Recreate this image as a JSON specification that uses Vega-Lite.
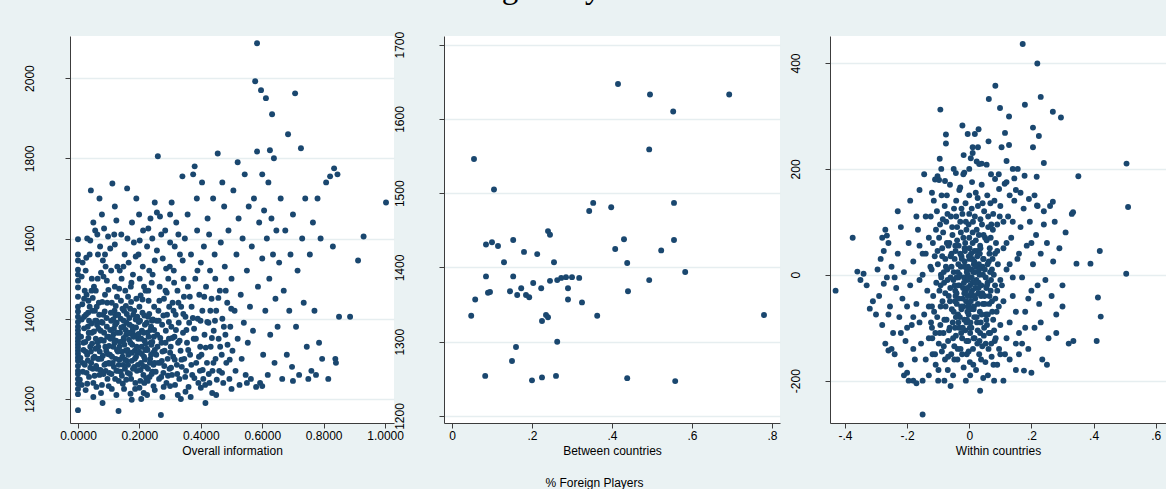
{
"$schema": "https://vega.github.io/schema/vega-lite/v6.json",
"background": "#EAF2F3",
"padding": {"left": 23, "top": -28, "right": 0, "bottom": 0},
"datasets": {
"p1": [
{"x":0,"y":1172},{"x":0,"y":1212},{"x":0,"y":1225},{"x":0,"y":1238},{"x":0,"y":1250},{"x":0,"y":1262},{"x":0,"y":1270},{"x":0,"y":1282},{"x":0,"y":1295},{"x":0,"y":1303},{"x":0,"y":1312},{"x":0,"y":1320},{"x":0,"y":1328},{"x":0,"y":1336},{"x":0,"y":1344},{"x":0,"y":1352},{"x":0,"y":1362},{"x":0,"y":1371},{"x":0,"y":1380},{"x":0,"y":1392},{"x":0,"y":1405},{"x":0,"y":1418},{"x":0,"y":1430},{"x":0,"y":1455},{"x":0,"y":1478},{"x":0,"y":1495},{"x":0,"y":1510},{"x":0,"y":1522},{"x":0,"y":1545},{"x":0,"y":1560},{"x":0,"y":1598},
{"x":0.012,"y":1235},{"x":0.015,"y":1290},{"x":0.018,"y":1340},{"x":0.02,"y":1405},{"x":0.022,"y":1470},{"x":0.025,"y":1520},{"x":0.028,"y":1265},{"x":0.03,"y":1310},{"x":0.032,"y":1380},{"x":0.034,"y":1445},{"x":0.036,"y":1255},{"x":0.038,"y":1560},{"x":0.04,"y":1330},{"x":0.042,"y":1720},{"x":0.043,"y":1290},{"x":0.045,"y":1365},{"x":0.047,"y":1420},{"x":0.05,"y":1240},{"x":0.052,"y":1480},{"x":0.054,"y":1305},{"x":0.056,"y":1620},{"x":0.058,"y":1350},{"x":0.06,"y":1395},{"x":0.062,"y":1275},{"x":0.064,"y":1500},{"x":0.066,"y":1330},{"x":0.068,"y":1440},{"x":0.07,"y":1260},{"x":0.072,"y":1580},{"x":0.074,"y":1370},{"x":0.076,"y":1300},{"x":0.078,"y":1660},{"x":0.08,"y":1190},{"x":0.082,"y":1410},{"x":0.084,"y":1345},{"x":0.086,"y":1285},{"x":0.088,"y":1460},{"x":0.09,"y":1530},{"x":0.092,"y":1320},{"x":0.094,"y":1380},{"x":0.096,"y":1250},{"x":0.098,"y":1605},{"x":0.1,"y":1355},{"x":0.03,"y":1600},{"x":0.05,"y":1640},{"x":0.065,"y":1560},{"x":0.085,"y":1625},{"x":0.02,"y":1450},{"x":0.045,"y":1500},{"x":0.075,"y":1515},{"x":0.09,"y":1270},{"x":0.06,"y":1230},{"x":0.035,"y":1365},{"x":0.055,"y":1420},{"x":0.08,"y":1390},{"x":0.025,"y":1318},{"x":0.07,"y":1345},{"x":0.095,"y":1440},{"x":0.015,"y":1540},{"x":0.04,"y":1595},{"x":0.088,"y":1560},{"x":0.068,"y":1300},{"x":0.1,"y":1290},{"x":0.078,"y":1235},{"x":0.058,"y":1470},{"x":0.048,"y":1275},{"x":0.033,"y":1415},{"x":0.062,"y":1385},{"x":0.083,"y":1505},
{"x":0.102,"y":1265},{"x":0.104,"y":1310},{"x":0.106,"y":1350},{"x":0.108,"y":1395},{"x":0.11,"y":1440},{"x":0.112,"y":1737},{"x":0.113,"y":1290},{"x":0.115,"y":1330},{"x":0.117,"y":1375},{"x":0.119,"y":1420},{"x":0.12,"y":1480},{"x":0.121,"y":1250},{"x":0.123,"y":1300},{"x":0.124,"y":1345},{"x":0.126,"y":1390},{"x":0.128,"y":1530},{"x":0.129,"y":1270},{"x":0.13,"y":1318},{"x":0.105,"y":1575},{"x":0.118,"y":1610},{"x":0.125,"y":1645},{"x":0.11,"y":1225},{"x":0.127,"y":1455},{"x":0.116,"y":1362},{"x":0.122,"y":1408},
{"x":0.132,"y":1170},{"x":0.133,"y":1285},{"x":0.135,"y":1330},{"x":0.137,"y":1365},{"x":0.139,"y":1400},{"x":0.14,"y":1445},{"x":0.142,"y":1500},{"x":0.143,"y":1258},{"x":0.145,"y":1305},{"x":0.147,"y":1345},{"x":0.148,"y":1380},{"x":0.15,"y":1420},{"x":0.152,"y":1560},{"x":0.153,"y":1275},{"x":0.155,"y":1320},{"x":0.157,"y":1360},{"x":0.158,"y":1390},{"x":0.16,"y":1725},{"x":0.141,"y":1610},{"x":0.146,"y":1238},{"x":0.154,"y":1470},{"x":0.159,"y":1295},{"x":0.136,"y":1520},{"x":0.149,"y":1352},{"x":0.156,"y":1432},
{"x":0.162,"y":1265},{"x":0.164,"y":1310},{"x":0.166,"y":1348},{"x":0.168,"y":1385},{"x":0.17,"y":1425},{"x":0.172,"y":1480},{"x":0.173,"y":1250},{"x":0.175,"y":1295},{"x":0.177,"y":1335},{"x":0.178,"y":1370},{"x":0.18,"y":1410},{"x":0.182,"y":1590},{"x":0.183,"y":1280},{"x":0.185,"y":1320},{"x":0.187,"y":1358},{"x":0.188,"y":1398},{"x":0.19,"y":1450},{"x":0.165,"y":1540},{"x":0.176,"y":1640},{"x":0.186,"y":1225},{"x":0.171,"y":1213},{"x":0.179,"y":1510},{"x":0.189,"y":1305},{"x":0.163,"y":1455},{"x":0.174,"y":1362},
{"x":0.192,"y":1270},{"x":0.194,"y":1315},{"x":0.196,"y":1350},{"x":0.198,"y":1392},{"x":0.2,"y":1430},{"x":0.201,"y":1500},{"x":0.203,"y":1245},{"x":0.205,"y":1290},{"x":0.207,"y":1330},{"x":0.208,"y":1370},{"x":0.21,"y":1415},{"x":0.212,"y":1620},{"x":0.213,"y":1260},{"x":0.215,"y":1305},{"x":0.217,"y":1345},{"x":0.218,"y":1385},{"x":0.22,"y":1470},{"x":0.197,"y":1560},{"x":0.206,"y":1200},{"x":0.214,"y":1215},{"x":0.199,"y":1660},{"x":0.211,"y":1530},{"x":0.219,"y":1322},{"x":0.204,"y":1458},{"x":0.216,"y":1240},
{"x":0.222,"y":1280},{"x":0.224,"y":1325},{"x":0.226,"y":1365},{"x":0.228,"y":1405},{"x":0.23,"y":1445},{"x":0.232,"y":1520},{"x":0.233,"y":1255},{"x":0.235,"y":1300},{"x":0.237,"y":1340},{"x":0.238,"y":1380},{"x":0.24,"y":1490},{"x":0.242,"y":1600},{"x":0.243,"y":1268},{"x":0.245,"y":1315},{"x":0.247,"y":1355},{"x":0.248,"y":1430},{"x":0.25,"y":1545},{"x":0.225,"y":1580},{"x":0.236,"y":1650},{"x":0.246,"y":1232},{"x":0.229,"y":1470},{"x":0.241,"y":1395},{"x":0.249,"y":1290},{"x":0.227,"y":1245},{"x":0.239,"y":1335},
{"x":0.255,"y":1310},{"x":0.258,"y":1360},{"x":0.26,"y":1805},{"x":0.262,"y":1420},{"x":0.264,"y":1250},{"x":0.266,"y":1480},{"x":0.268,"y":1290},{"x":0.27,"y":1160},{"x":0.272,"y":1340},{"x":0.274,"y":1385},{"x":0.276,"y":1550},{"x":0.278,"y":1265},{"x":0.28,"y":1450},{"x":0.282,"y":1320},{"x":0.284,"y":1620},{"x":0.286,"y":1370},{"x":0.288,"y":1240},{"x":0.29,"y":1410},{"x":0.292,"y":1300},{"x":0.294,"y":1500},{"x":0.296,"y":1350},{"x":0.298,"y":1275},{"x":0.3,"y":1590},{"x":0.257,"y":1665},{"x":0.267,"y":1655},{"x":0.279,"y":1230},{"x":0.287,"y":1525},{"x":0.297,"y":1430},{"x":0.263,"y":1395},{"x":0.273,"y":1295},
{"x":0.302,"y":1330},{"x":0.304,"y":1380},{"x":0.306,"y":1260},{"x":0.308,"y":1440},{"x":0.31,"y":1305},{"x":0.312,"y":1520},{"x":0.314,"y":1355},{"x":0.316,"y":1235},{"x":0.318,"y":1410},{"x":0.32,"y":1640},{"x":0.322,"y":1285},{"x":0.324,"y":1470},{"x":0.326,"y":1340},{"x":0.328,"y":1390},{"x":0.33,"y":1250},{"x":0.332,"y":1560},{"x":0.334,"y":1320},{"x":0.336,"y":1430},{"x":0.338,"y":1280},{"x":0.34,"y":1755},{"x":0.342,"y":1365},{"x":0.344,"y":1500},{"x":0.346,"y":1300},{"x":0.348,"y":1600},{"x":0.35,"y":1405},{"x":0.305,"y":1690},{"x":0.315,"y":1580},{"x":0.325,"y":1210},{"x":0.335,"y":1200},{"x":0.345,"y":1455},
{"x":0.352,"y":1270},{"x":0.355,"y":1340},{"x":0.358,"y":1480},{"x":0.36,"y":1230},{"x":0.362,"y":1390},{"x":0.365,"y":1310},{"x":0.368,"y":1560},{"x":0.37,"y":1430},{"x":0.372,"y":1260},{"x":0.375,"y":1760},{"x":0.377,"y":1350},{"x":0.38,"y":1780},{"x":0.382,"y":1500},{"x":0.385,"y":1290},{"x":0.388,"y":1620},{"x":0.39,"y":1400},{"x":0.392,"y":1240},{"x":0.395,"y":1460},{"x":0.398,"y":1330},{"x":0.4,"y":1540},{"x":0.357,"y":1660},{"x":0.367,"y":1205},{"x":0.378,"y":1375},{"x":0.387,"y":1700},{"x":0.397,"y":1270},
{"x":0.402,"y":1310},{"x":0.405,"y":1420},{"x":0.408,"y":1250},{"x":0.41,"y":1580},{"x":0.412,"y":1360},{"x":0.415,"y":1190},{"x":0.417,"y":1480},{"x":0.42,"y":1290},{"x":0.422,"y":1650},{"x":0.425,"y":1390},{"x":0.428,"y":1240},{"x":0.43,"y":1520},{"x":0.432,"y":1330},{"x":0.435,"y":1450},{"x":0.438,"y":1270},{"x":0.44,"y":1700},{"x":0.442,"y":1370},{"x":0.445,"y":1560},{"x":0.448,"y":1300},{"x":0.45,"y":1420},{"x":0.404,"y":1740},{"x":0.414,"y":1235},{"x":0.427,"y":1610},{"x":0.437,"y":1215},{"x":0.447,"y":1500},
{"x":0.455,"y":1812},{"x":0.458,"y":1350},{"x":0.46,"y":1270},{"x":0.462,"y":1470},{"x":0.465,"y":1590},{"x":0.468,"y":1310},{"x":0.47,"y":1400},{"x":0.473,"y":1240},{"x":0.476,"y":1680},{"x":0.478,"y":1530},{"x":0.48,"y":1360},{"x":0.483,"y":1290},{"x":0.486,"y":1440},{"x":0.49,"y":1620},{"x":0.493,"y":1250},{"x":0.496,"y":1380},{"x":0.5,"y":1500},{"x":0.503,"y":1320},{"x":0.506,"y":1720},{"x":0.51,"y":1420},{"x":0.513,"y":1270},{"x":0.516,"y":1560},{"x":0.52,"y":1350},{"x":0.523,"y":1650},{"x":0.526,"y":1235},{"x":0.53,"y":1460},{"x":0.533,"y":1300},{"x":0.536,"y":1600},{"x":0.54,"y":1390},{"x":0.543,"y":1760},{"x":0.546,"y":1260},{"x":0.55,"y":1520},{"x":0.553,"y":1340},{"x":0.556,"y":1680},{"x":0.56,"y":1430},{"x":0.563,"y":1250},{"x":0.566,"y":1580},{"x":0.57,"y":1370},{"x":0.573,"y":1700},{"x":0.577,"y":1992},{"x":0.58,"y":1230},{"x":0.583,"y":2087},{"x":0.583,"y":1817},{"x":0.586,"y":1480},{"x":0.59,"y":1640},{"x":0.593,"y":1240},{"x":0.596,"y":1970},{"x":0.6,"y":1550},{"x":0.603,"y":1310},{"x":0.606,"y":1670},{"x":0.61,"y":1420},{"x":0.612,"y":1950},{"x":0.615,"y":1600},{"x":0.618,"y":1260},{"x":0.62,"y":1740},{"x":0.623,"y":1500},{"x":0.626,"y":1360},{"x":0.63,"y":1650},{"x":0.632,"y":1910},{"x":0.635,"y":1560},{"x":0.638,"y":1800},{"x":0.64,"y":1290},{"x":0.643,"y":1450},{"x":0.646,"y":1620},{"x":0.65,"y":1380},{"x":0.47,"y":1740},{"x":0.52,"y":1790},{"x":0.6,"y":1760},{"x":0.625,"y":1820},
{"x":0.655,"y":1540},{"x":0.66,"y":1700},{"x":0.665,"y":1250},{"x":0.67,"y":1470},{"x":0.675,"y":1620},{"x":0.68,"y":1310},{"x":0.684,"y":1860},{"x":0.688,"y":1420},{"x":0.692,"y":1560},{"x":0.697,"y":1280},{"x":0.7,"y":1660},{"x":0.707,"y":1962},{"x":0.71,"y":1380},{"x":0.715,"y":1520},{"x":0.72,"y":1260},{"x":0.726,"y":1825},{"x":0.73,"y":1600},{"x":0.735,"y":1440},{"x":0.74,"y":1700},{"x":0.745,"y":1330},{"x":0.75,"y":1250},{"x":0.755,"y":1560},{"x":0.76,"y":1270},{"x":0.765,"y":1640},{"x":0.77,"y":1420},{"x":0.775,"y":1260},{"x":0.78,"y":1700},{"x":0.785,"y":1340},{"x":0.79,"y":1600},{"x":0.795,"y":1300},{"x":0.808,"y":1740},{"x":0.815,"y":1250},{"x":0.821,"y":1755},{"x":0.83,"y":1580},{"x":0.834,"y":1775},{"x":0.838,"y":1300},{"x":0.845,"y":1760},{"x":0.85,"y":1405},{"x":0.84,"y":1290},
{"x":0.886,"y":1405},{"x":0.912,"y":1545},{"x":0.93,"y":1605},{"x":1.003,"y":1690},
{"x":0.006,"y":1248},{"x":0.008,"y":1302},{"x":0.01,"y":1355},{"x":0.012,"y":1398},{"x":0.014,"y":1436},{"x":0.016,"y":1268},{"x":0.018,"y":1322},{"x":0.02,"y":1376},{"x":0.022,"y":1285},{"x":0.024,"y":1342},{"x":0.026,"y":1410},{"x":0.028,"y":1460},{"x":0.03,"y":1238},{"x":0.032,"y":1296},{"x":0.034,"y":1352},{"x":0.036,"y":1395},{"x":0.038,"y":1430},{"x":0.04,"y":1278},{"x":0.042,"y":1318},{"x":0.044,"y":1388},{"x":0.046,"y":1338},{"x":0.048,"y":1452},{"x":0.05,"y":1302},{"x":0.052,"y":1368},{"x":0.054,"y":1258},{"x":0.056,"y":1395},
{"x":0.057,"y":1325},{"x":0.059,"y":1282},{"x":0.061,"y":1430},{"x":0.063,"y":1342},{"x":0.065,"y":1300},{"x":0.067,"y":1375},{"x":0.069,"y":1410},{"x":0.071,"y":1318},{"x":0.073,"y":1272},{"x":0.075,"y":1348},{"x":0.077,"y":1392},{"x":0.079,"y":1442},{"x":0.081,"y":1308},{"x":0.083,"y":1262},{"x":0.085,"y":1365},{"x":0.087,"y":1418},{"x":0.089,"y":1330},{"x":0.091,"y":1288},{"x":0.093,"y":1402},{"x":0.095,"y":1355},{"x":0.097,"y":1312},{"x":0.099,"y":1472},
{"x":0.101,"y":1332},{"x":0.103,"y":1288},{"x":0.105,"y":1372},{"x":0.107,"y":1415},{"x":0.109,"y":1262},{"x":0.111,"y":1305},{"x":0.113,"y":1352},{"x":0.115,"y":1398},{"x":0.117,"y":1280},{"x":0.119,"y":1340},{"x":0.121,"y":1385},{"x":0.123,"y":1432},{"x":0.125,"y":1270},{"x":0.127,"y":1322},{"x":0.129,"y":1365},{"x":0.131,"y":1410},{"x":0.133,"y":1245},{"x":0.135,"y":1298},{"x":0.137,"y":1342},{"x":0.139,"y":1268},{"x":0.141,"y":1378},{"x":0.143,"y":1318},{"x":0.145,"y":1425},{"x":0.147,"y":1285},{"x":0.149,"y":1395},
{"x":0.151,"y":1335},{"x":0.153,"y":1298},{"x":0.155,"y":1372},{"x":0.157,"y":1248},{"x":0.159,"y":1412},{"x":0.161,"y":1322},{"x":0.163,"y":1285},{"x":0.165,"y":1365},{"x":0.167,"y":1402},{"x":0.169,"y":1262},{"x":0.171,"y":1340},{"x":0.173,"y":1442},{"x":0.175,"y":1315},{"x":0.177,"y":1380},{"x":0.179,"y":1275},{"x":0.181,"y":1355},{"x":0.183,"y":1420},{"x":0.185,"y":1300},{"x":0.187,"y":1240},{"x":0.189,"y":1378},{"x":0.191,"y":1330},{"x":0.193,"y":1405},{"x":0.195,"y":1285},{"x":0.197,"y":1362},{"x":0.199,"y":1318},
{"x":0.202,"y":1395},{"x":0.204,"y":1272},{"x":0.206,"y":1350},{"x":0.208,"y":1312},{"x":0.21,"y":1448},{"x":0.212,"y":1282},{"x":0.214,"y":1365},{"x":0.216,"y":1408},{"x":0.218,"y":1298},{"x":0.22,"y":1338},{"x":0.222,"y":1252},{"x":0.224,"y":1390},{"x":0.226,"y":1322},{"x":0.228,"y":1275},{"x":0.23,"y":1355},{"x":0.232,"y":1412},{"x":0.234,"y":1290},{"x":0.236,"y":1372},{"x":0.238,"y":1310},{"x":0.24,"y":1262},{"x":0.242,"y":1342},{"x":0.244,"y":1398},{"x":0.246,"y":1285},{"x":0.248,"y":1372},{"x":0.25,"y":1322},
{"x":0.253,"y":1268},{"x":0.256,"y":1395},{"x":0.259,"y":1330},{"x":0.261,"y":1290},{"x":0.265,"y":1445},{"x":0.268,"y":1352},{"x":0.271,"y":1255},{"x":0.275,"y":1318},{"x":0.278,"y":1408},{"x":0.281,"y":1282},{"x":0.285,"y":1340},{"x":0.289,"y":1465},{"x":0.293,"y":1258},{"x":0.296,"y":1392},{"x":0.3,"y":1315},{"x":0.303,"y":1278},{"x":0.307,"y":1352},{"x":0.311,"y":1420},{"x":0.315,"y":1298},{"x":0.319,"y":1372},
{"x":0.323,"y":1262},{"x":0.327,"y":1440},{"x":0.331,"y":1345},{"x":0.337,"y":1298},{"x":0.343,"y":1412},{"x":0.349,"y":1255},{"x":0.353,"y":1372},{"x":0.359,"y":1322},{"x":0.364,"y":1455},{"x":0.369,"y":1285},{"x":0.374,"y":1402},{"x":0.379,"y":1252},{"x":0.384,"y":1350},{"x":0.389,"y":1520},{"x":0.394,"y":1305},{"x":0.399,"y":1395},{"x":0.406,"y":1272},{"x":0.411,"y":1455},{"x":0.416,"y":1328},{"x":0.421,"y":1392},{"x":0.426,"y":1262},{"x":0.431,"y":1420},{"x":0.436,"y":1352},{"x":0.441,"y":1290},{"x":0.446,"y":1395},{"x":0.452,"y":1248},{"x":0.457,"y":1452},{"x":0.463,"y":1330},{"x":0.469,"y":1265},{"x":0.475,"y":1380},{"x":0.481,"y":1470},{"x":0.487,"y":1335},{"x":0.494,"y":1298},{"x":0.499,"y":1425},
{"x":0.012,"y":1505},{"x":0.027,"y":1552},{"x":0.044,"y":1470},{"x":0.063,"y":1610},{"x":0.081,"y":1545},{"x":0.094,"y":1495},{"x":0.108,"y":1520},{"x":0.12,"y":1585},{"x":0.134,"y":1475},{"x":0.148,"y":1530},{"x":0.161,"y":1600},{"x":0.174,"y":1490},{"x":0.188,"y":1555},{"x":0.201,"y":1595},{"x":0.215,"y":1480},{"x":0.229,"y":1625},{"x":0.243,"y":1510},{"x":0.257,"y":1570},{"x":0.271,"y":1610},{"x":0.285,"y":1470},{"x":0.299,"y":1530},{"x":0.313,"y":1490},{"x":0.327,"y":1610},{"x":0.341,"y":1545},{"x":0.12,"y":1680},{"x":0.19,"y":1700},{"x":0.25,"y":1690},{"x":0.3,"y":1660},{"x":0.07,"y":1700},
{"x":0.025,"y":1222},{"x":0.05,"y":1205},{"x":0.075,"y":1215},{"x":0.1,"y":1232},{"x":0.125,"y":1210},{"x":0.15,"y":1225},{"x":0.175,"y":1198},{"x":0.2,"y":1228},{"x":0.225,"y":1210},{"x":0.25,"y":1222},{"x":0.275,"y":1205},{"x":0.3,"y":1232},{"x":0.35,"y":1218},{"x":0.4,"y":1228},{"x":0.45,"y":1210},{"x":0.5,"y":1225},{"x":0.55,"y":1240},{"x":0.6,"y":1232},{"x":0.7,"y":1245}
],
"p2": [
{"x":0.055,"y":1546},{"x":0.105,"y":1505},{"x":0.415,"y":1647},{"x":0.495,"y":1633},{"x":0.553,"y":1610},{"x":0.693,"y":1633},{"x":0.493,"y":1559},{"x":0.343,"y":1476},{"x":0.353,"y":1487},{"x":0.398,"y":1481},{"x":0.555,"y":1487},{"x":0.24,"y":1449},{"x":0.245,"y":1444},{"x":0.43,"y":1438},{"x":0.408,"y":1425},{"x":0.523,"y":1423},{"x":0.555,"y":1437},{"x":0.085,"y":1431},{"x":0.1,"y":1434},{"x":0.115,"y":1429},{"x":0.153,"y":1437},{"x":0.18,"y":1421},{"x":0.213,"y":1418},{"x":0.13,"y":1407},{"x":0.255,"y":1407},{"x":0.438,"y":1406},{"x":0.085,"y":1388},{"x":0.153,"y":1388},{"x":0.203,"y":1379},{"x":0.223,"y":1372},{"x":0.245,"y":1382},{"x":0.263,"y":1383},{"x":0.273,"y":1386},{"x":0.285,"y":1387},{"x":0.3,"y":1387},{"x":0.318,"y":1386},{"x":0.09,"y":1366},{"x":0.095,"y":1367},{"x":0.145,"y":1368},{"x":0.163,"y":1363},{"x":0.185,"y":1363},{"x":0.193,"y":1360},{"x":0.173,"y":1372},{"x":0.29,"y":1372},{"x":0.29,"y":1357},{"x":0.325,"y":1353},{"x":0.44,"y":1368},{"x":0.493,"y":1383},{"x":0.583,"y":1394},{"x":0.058,"y":1357},{"x":0.048,"y":1335},{"x":0.235,"y":1336},{"x":0.225,"y":1328},{"x":0.24,"y":1333},{"x":0.363,"y":1335},{"x":0.78,"y":1336},{"x":0.263,"y":1300},{"x":0.16,"y":1293},{"x":0.15,"y":1274},{"x":0.083,"y":1254},{"x":0.2,"y":1248},{"x":0.225,"y":1252},{"x":0.26,"y":1254},{"x":0.438,"y":1251},{"x":0.558,"y":1247}
],
"p3": [
{"x":0.172,"y":436},{"x":0.219,"y":399},{"x":0.084,"y":357},{"x":0.063,"y":332},{"x":0.23,"y":336},{"x":0.179,"y":321},{"x":-0.093,"y":312},{"x":0.099,"y":315},{"x":0.269,"y":308},{"x":0.295,"y":297},{"x":0.128,"y":299},{"x":-0.022,"y":282},{"x":0.03,"y":275},{"x":0.205,"y":278},{"x":-0.075,"y":265},{"x":-0.005,"y":266},{"x":0.018,"y":266},{"x":0.115,"y":268},{"x":0.224,"y":262},{"x":-0.075,"y":248},{"x":0.062,"y":252},{"x":0.011,"y":241},{"x":0.028,"y":241},{"x":0.104,"y":241},{"x":0.128,"y":245},{"x":0.205,"y":241},{"x":-0.018,"y":226},{"x":0.011,"y":230},{"x":0.005,"y":220},{"x":0.024,"y":214},{"x":0.032,"y":209},{"x":0.056,"y":208},{"x":-0.095,"y":219},{"x":0.24,"y":211},{"x":0.156,"y":200},{"x":0.506,"y":210},{"x":-0.102,"y":186},{"x":-0.097,"y":179},{"x":-0.078,"y":177},{"x":0.351,"y":186},{"x":0.178,"y":187},{"x":0.217,"y":185},{"x":0.145,"y":182},{"x":0.083,"y":181},{"x":0.114,"y":172},{"x":-0.043,"y":192},{"x":-0.016,"y":193},{"x":-0.029,"y":165},{"x":0.096,"y":162},{"x":0.511,"y":128},{"x":0.192,"y":143},{"x":0.218,"y":131},{"x":0.269,"y":138},{"x":0.24,"y":120},{"x":0.334,"y":118},{"x":-0.43,"y":-30},{"x":-0.375,"y":70},{"x":-0.36,"y":6},{"x":-0.34,"y":2},{"x":-0.32,"y":-64},{"x":-0.275,"y":-17},{"x":-0.265,"y":74},{"x":-0.26,"y":-143},{"x":-0.22,"y":-170},{"x":-0.18,"y":-200},{"x":-0.15,"y":-264},{"x":0.176,"y":-181},{"x":0.035,"y":-219},{"x":0.41,"y":-125},{"x":0.335,"y":-125},{"x":0.423,"y":-79},{"x":0.414,"y":-43},{"x":0.42,"y":45},{"x":0.39,"y":21},{"x":0.345,"y":21},{"x":0.505,"y":2},
{"x":-0.29,"y":-40},{"x":-0.285,"y":30},{"x":-0.28,"y":-95},{"x":-0.275,"y":45},{"x":-0.27,"y":-130},{"x":-0.265,"y":-5},{"x":-0.26,"y":60},{"x":-0.255,"y":-60},{"x":-0.25,"y":15},{"x":-0.245,"y":-110},{"x":-0.24,"y":-150},{"x":-0.235,"y":-25},{"x":-0.23,"y":40},{"x":-0.225,"y":-80},{"x":-0.22,"y":90},{"x":-0.215,"y":-45},{"x":-0.21,"y":5},{"x":-0.205,"y":-125},{"x":-0.2,"y":-185},{"x":-0.195,"y":60},{"x":-0.19,"y":-20},{"x":-0.185,"y":-95},{"x":-0.18,"y":25},{"x":-0.175,"y":-160},{"x":-0.17,"y":-55},{"x":-0.165,"y":85},{"x":-0.16,"y":-10},{"x":-0.155,"y":-130},{"x":-0.15,"y":40},{"x":-0.145,"y":-75},{"x":-0.14,"y":110},{"x":-0.135,"y":-30},{"x":-0.13,"y":-190},{"x":-0.125,"y":15},{"x":-0.12,"y":-100},{"x":-0.295,"y":10},{"x":-0.28,"y":70},{"x":-0.26,"y":-75},{"x":-0.24,"y":-5},{"x":-0.22,"y":-110},{"x":-0.2,"y":-60},{"x":-0.18,"y":-140},{"x":-0.16,"y":55},{"x":-0.14,"y":-160},{"x":-0.13,"y":70},{"x":-0.195,"y":-200},{"x":-0.17,"y":-205},{"x":-0.21,"y":-190},{"x":-0.25,"y":-140},{"x":-0.31,"y":-50},{"x":-0.33,"y":-20},{"x":-0.3,"y":-75},{"x":-0.35,"y":-10},{"x":-0.27,"y":85},{"x":-0.23,"y":120},{"x":-0.19,"y":140},{"x":-0.16,"y":160},{"x":-0.145,"y":190},{"x":-0.12,"y":155},
{"x":0.085,"y":-120},{"x":0.09,"y":95},{"x":0.095,"y":-60},{"x":0.1,"y":130},{"x":0.105,"y":-20},{"x":0.11,"y":50},{"x":0.115,"y":-150},{"x":0.12,"y":10},{"x":0.125,"y":110},{"x":0.13,"y":-90},{"x":0.135,"y":70},{"x":0.14,"y":-40},{"x":0.145,"y":140},{"x":0.15,"y":-180},{"x":0.155,"y":30},{"x":0.16,"y":-110},{"x":0.165,"y":90},{"x":0.17,"y":-5},{"x":0.175,"y":125},{"x":0.18,"y":-70},{"x":0.185,"y":55},{"x":0.19,"y":-140},{"x":0.195,"y":100},{"x":0.2,"y":-30},{"x":0.205,"y":20},{"x":0.21,"y":-100},{"x":0.215,"y":75},{"x":0.22,"y":130},{"x":0.225,"y":-55},{"x":0.23,"y":40},{"x":0.235,"y":-160},{"x":0.24,"y":95},{"x":0.245,"y":-10},{"x":0.25,"y":60},{"x":0.255,"y":-120},{"x":0.26,"y":130},{"x":0.265,"y":-40},{"x":0.27,"y":25},{"x":0.275,"y":100},{"x":0.28,"y":-75},{"x":0.29,"y":50},{"x":0.3,"y":-20},{"x":0.31,"y":80},{"x":0.32,"y":-130},{"x":0.33,"y":115},{"x":0.09,"y":-170},{"x":0.11,"y":-200},{"x":0.13,"y":-160},{"x":0.15,"y":160},{"x":0.17,"y":-130},{"x":0.19,"y":-45},{"x":0.21,"y":150},{"x":0.23,"y":-90},{"x":0.25,"y":-170},{"x":0.28,"y":-110},{"x":0.3,"y":-60},{"x":0.095,"y":190},{"x":0.12,"y":175},{"x":0.14,"y":200},{"x":0.165,"y":155},{"x":0.16,"y":-150},{"x":0.2,"y":-185},{"x":0.12,"y":-120},{"x":0.1,"y":-95},{"x":0.14,"y":-5},
{"x":-0.118,"y":-150},{"x":-0.123,"y":-90},{"x":-0.116,"y":-40},{"x":-0.121,"y":10},{"x":-0.117,"y":60},{"x":-0.124,"y":110},{"x":-0.119,"y":-120},
{"x":-0.108,"y":-170},{"x":-0.113,"y":-70},{"x":-0.106,"y":-15},{"x":-0.111,"y":35},{"x":-0.107,"y":85},{"x":-0.114,"y":140},{"x":-0.109,"y":-110},
{"x":-0.098,"y":-130},{"x":-0.103,"y":-80},{"x":-0.096,"y":-30},{"x":-0.101,"y":20},{"x":-0.097,"y":70},{"x":-0.104,"y":120},{"x":-0.099,"y":-180},{"x":-0.102,"y":45},
{"x":-0.088,"y":-145},{"x":-0.093,"y":-95},{"x":-0.086,"y":-50},{"x":-0.091,"y":0},{"x":-0.087,"y":50},{"x":-0.094,"y":95},{"x":-0.089,"y":150},{"x":-0.092,"y":-20},
{"x":-0.078,"y":-160},{"x":-0.083,"y":-110},{"x":-0.076,"y":-60},{"x":-0.081,"y":-15},{"x":-0.077,"y":30},{"x":-0.084,"y":80},{"x":-0.079,"y":130},{"x":-0.082,"y":5},
{"x":-0.068,"y":-125},{"x":-0.073,"y":-85},{"x":-0.066,"y":-40},{"x":-0.071,"y":10},{"x":-0.067,"y":55},{"x":-0.074,"y":100},{"x":-0.069,"y":-180},{"x":-0.072,"y":150},{"x":-0.07,"y":-10},
{"x":-0.058,"y":-150},{"x":-0.063,"y":-100},{"x":-0.056,"y":-65},{"x":-0.061,"y":-25},{"x":-0.057,"y":15},{"x":-0.064,"y":60},{"x":-0.059,"y":110},{"x":-0.062,"y":170},{"x":-0.06,"y":35},
{"x":-0.048,"y":-135},{"x":-0.053,"y":-90},{"x":-0.046,"y":-50},{"x":-0.051,"y":-10},{"x":-0.047,"y":30},{"x":-0.054,"y":75},{"x":-0.049,"y":125},{"x":-0.052,"y":-190},{"x":-0.05,"y":5},{"x":-0.045,"y":-30},
{"x":-0.038,"y":-160},{"x":-0.043,"y":-115},{"x":-0.036,"y":-75},{"x":-0.041,"y":-35},{"x":-0.037,"y":5},{"x":-0.044,"y":45},{"x":-0.039,"y":90},{"x":-0.042,"y":140},{"x":-0.04,"y":-55},{"x":-0.035,"y":20},
{"x":-0.028,"y":-140},{"x":-0.033,"y":-100},{"x":-0.026,"y":-60},{"x":-0.031,"y":-20},{"x":-0.027,"y":15},{"x":-0.034,"y":55},{"x":-0.029,"y":100},{"x":-0.032,"y":160},{"x":-0.03,"y":-80},{"x":-0.025,"y":35},{"x":-0.035,"y":-5},
{"x":-0.018,"y":-175},{"x":-0.023,"y":-120},{"x":-0.016,"y":-85},{"x":-0.021,"y":-45},{"x":-0.017,"y":-5},{"x":-0.024,"y":30},{"x":-0.019,"y":70},{"x":-0.022,"y":115},{"x":-0.02,"y":-25},{"x":-0.015,"y":50},{"x":-0.025,"y":-65},{"x":-0.019,"y":190},
{"x":-0.008,"y":-150},{"x":-0.013,"y":-105},{"x":-0.006,"y":-70},{"x":-0.011,"y":-30},{"x":-0.007,"y":10},{"x":-0.014,"y":45},{"x":-0.009,"y":85},{"x":-0.012,"y":135},{"x":-0.01,"y":-50},{"x":-0.005,"y":-10},{"x":-0.015,"y":25},{"x":-0.009,"y":-90},{"x":-0.011,"y":-200},
{"x":0.002,"y":-165},{"x":-0.003,"y":-125},{"x":0.004,"y":-90},{"x":-0.001,"y":-55},{"x":0.003,"y":-20},{"x":-0.004,"y":15},{"x":0.001,"y":50},{"x":-0.002,"y":95},{"x":0,"y":150},{"x":0.005,"y":-40},{"x":-0.005,"y":0},{"x":0.001,"y":30},{"x":-0.002,"y":-75},{"x":0.003,"y":-110},
{"x":0.012,"y":-140},{"x":0.007,"y":-100},{"x":0.014,"y":-65},{"x":0.009,"y":-30},{"x":0.013,"y":5},{"x":0.006,"y":40},{"x":0.011,"y":80},{"x":0.008,"y":125},{"x":0.01,"y":-15},{"x":0.015,"y":20},{"x":0.005,"y":-50},{"x":0.011,"y":60},{"x":0.009,"y":175},
{"x":0.022,"y":-180},{"x":0.017,"y":-120},{"x":0.024,"y":-80},{"x":0.019,"y":-45},{"x":0.023,"y":-10},{"x":0.016,"y":25},{"x":0.021,"y":65},{"x":0.018,"y":110},{"x":0.02,"y":-25},{"x":0.025,"y":45},{"x":0.015,"y":-60},{"x":0.021,"y":155},{"x":0.019,"y":5},
{"x":0.032,"y":-150},{"x":0.027,"y":-105},{"x":0.034,"y":-70},{"x":0.029,"y":-35},{"x":0.033,"y":0},{"x":0.026,"y":35},{"x":0.031,"y":75},{"x":0.028,"y":130},{"x":0.03,"y":-15},{"x":0.035,"y":55},{"x":0.025,"y":-90},{"x":0.031,"y":20},
{"x":0.042,"y":-135},{"x":0.037,"y":-90},{"x":0.044,"y":-55},{"x":0.039,"y":-20},{"x":0.043,"y":15},{"x":0.036,"y":50},{"x":0.041,"y":95},{"x":0.038,"y":-40},{"x":0.04,"y":170},{"x":0.045,"y":30},{"x":0.035,"y":-110},
{"x":0.052,"y":-165},{"x":0.047,"y":-115},{"x":0.054,"y":-75},{"x":0.049,"y":-40},{"x":0.053,"y":-5},{"x":0.046,"y":30},{"x":0.051,"y":70},{"x":0.048,"y":120},{"x":0.05,"y":10},{"x":0.055,"y":-25},{"x":0.045,"y":-195},
{"x":0.062,"y":-140},{"x":0.057,"y":-95},{"x":0.064,"y":-55},{"x":0.059,"y":-15},{"x":0.063,"y":25},{"x":0.056,"y":65},{"x":0.061,"y":110},{"x":0.058,"y":150},{"x":0.06,"y":-75},{"x":0.065,"y":40},
{"x":0.072,"y":-155},{"x":0.067,"y":-110},{"x":0.074,"y":-70},{"x":0.069,"y":-30},{"x":0.073,"y":10},{"x":0.066,"y":50},{"x":0.071,"y":95},{"x":0.068,"y":135},{"x":0.07,"y":-10},
{"x":0.082,"y":-125},{"x":0.077,"y":-85},{"x":0.084,"y":-45},{"x":0.079,"y":0},{"x":0.083,"y":40},{"x":0.076,"y":85},{"x":0.081,"y":140},{"x":0.078,"y":-170},
{"x":-0.095,"y":-110},{"x":-0.092,"y":-60},{"x":-0.09,"y":-5},{"x":-0.087,"y":35},{"x":-0.085,"y":105},{"x":-0.082,"y":-135},{"x":-0.08,"y":-85},{"x":-0.077,"y":-35},{"x":-0.075,"y":15},{"x":-0.072,"y":60},{"x":-0.07,"y":115},{"x":-0.068,"y":-155},{"x":-0.065,"y":-105},{"x":-0.062,"y":-50},{"x":-0.06,"y":-5},{"x":-0.057,"y":40},{"x":-0.055,"y":90},{"x":-0.052,"y":-120},{"x":-0.05,"y":-70},{"x":-0.047,"y":-20},{"x":-0.045,"y":55},{"x":-0.042,"y":110},
{"x":-0.048,"y":-160},{"x":-0.046,"y":-100},{"x":-0.044,"y":-40},{"x":-0.041,"y":-5},{"x":-0.039,"y":65},{"x":-0.037,"y":-140},{"x":-0.035,"y":-90},{"x":-0.033,"y":-45},{"x":-0.031,"y":0},{"x":-0.029,"y":40},{"x":-0.027,"y":80},{"x":-0.025,"y":125},{"x":-0.023,"y":-150},{"x":-0.021,"y":-100},{"x":-0.019,"y":-60},{"x":-0.017,"y":-15},{"x":-0.015,"y":15},{"x":-0.013,"y":60},{"x":-0.011,"y":100},{"x":-0.009,"y":-125},{"x":-0.007,"y":-85},{"x":-0.005,"y":-40},{"x":-0.003,"y":-5},{"x":-0.001,"y":35},{"x":0,"y":70},{"x":0,"y":115},{"x":-0.002,"y":-145},{"x":-0.004,"y":-60},{"x":-0.006,"y":-25},{"x":-0.008,"y":5},{"x":-0.016,"y":-35},{"x":-0.026,"y":-110},{"x":-0.036,"y":-20},{"x":-0.043,"y":-80},
{"x":0.002,"y":-100},{"x":0.004,"y":-65},{"x":0.006,"y":-35},{"x":0.008,"y":-5},{"x":0.01,"y":30},{"x":0.012,"y":100},{"x":0.014,"y":-120},{"x":0.016,"y":-80},{"x":0.018,"y":-40},{"x":0.02,"y":-15},{"x":0.022,"y":15},{"x":0.024,"y":85},{"x":0.026,"y":-130},{"x":0.028,"y":-55},{"x":0.03,"y":-25},{"x":0.032,"y":10},{"x":0.034,"y":40},{"x":0.036,"y":105},{"x":0.038,"y":-160},{"x":0.04,"y":-75},{"x":0.042,"y":-35},{"x":0.044,"y":0},{"x":0.046,"y":75},{"x":0.048,"y":-100},{"x":0.05,"y":-55},{"x":0.003,"y":-190},{"x":0.013,"y":-170},{"x":0.027,"y":145},{"x":0.043,"y":135},{"x":0.017,"y":45},{"x":0.007,"y":10},{"x":0.033,"y":-125},
{"x":0.053,"y":-130},{"x":0.055,"y":-85},{"x":0.057,"y":-20},{"x":0.059,"y":20},{"x":0.061,"y":90},{"x":0.063,"y":-110},{"x":0.065,"y":-40},{"x":0.067,"y":5},{"x":0.069,"y":70},{"x":0.071,"y":-130},{"x":0.073,"y":-50},{"x":0.075,"y":30},{"x":0.077,"y":115},{"x":0.08,"y":-105},{"x":0.083,"y":-20},{"x":0.086,"y":60},{"x":0.088,"y":-70},{"x":0.092,"y":20},{"x":0.096,"y":-140},{"x":0.098,"y":110},
{"x":-0.2,"y":-100},{"x":-0.18,"y":-80},{"x":-0.16,"y":-90},{"x":-0.14,"y":40},{"x":-0.17,"y":110},{"x":-0.15,"y":-200},{"x":-0.13,"y":-120},{"x":-0.11,"y":180},{"x":-0.13,"y":-60},{"x":-0.15,"y":0},{"x":0.11,"y":-50},{"x":0.13,"y":150},{"x":0.15,"y":-70},{"x":0.12,"y":60},{"x":0.14,"y":100},{"x":0.16,"y":40},{"x":0.18,"y":-100},{"x":0.2,"y":60},{"x":0.22,"y":-20},{"x":0.1,"y":-150},{"x":0.11,"y":100},{"x":0.09,"y":-30},{"x":0.09,"y":45},{"x":0.1,"y":-10},{"x":0.13,"y":20},{"x":0.15,"y":-130},{"x":-0.11,"y":-150},{"x":-0.12,"y":-60},{"x":-0.1,"y":-200},{"x":-0.08,"y":-200},{"x":-0.06,"y":-210},{"x":0.06,"y":-190},{"x":0.08,"y":-200},{"x":-0.09,"y":200},{"x":-0.05,"y":200},{"x":0,"y":200},{"x":0.04,"y":210},{"x":0.07,"y":190},{"x":0.12,"y":215}
]
},
"title": {"text": "% Foreign Players", "orient": "bottom", "anchor": "middle", "offset": 22, "font": "Liberation Sans", "fontSize": 12, "fontWeight": "normal", "color": "#000000"},
"spacing": 50,
"bounds": "flush",
"hconcat": [
{
"width": 324, "height": 387,
"data": {"name": "p1"},
"mark": {"type": "circle", "size": 35, "color": "#1A476F", "opacity": 1},
"encoding": {
"x": {"field": "x", "type": "quantitative", "scale": {"domain": [-0.026, 1.029], "nice": false, "zero": false}, "axis": {"title": "Overall information", "values": [0, 0.2, 0.4, 0.6, 0.8, 1], "format": ".4f"}},
"y": {"field": "y", "type": "quantitative", "scale": {"domain": [1140, 2105], "nice": false, "zero": false}, "axis": {"title": null, "values": [1200, 1400, 1600, 1800, 2000], "format": "d", "labelPadding": 29}}
}
},
{
"width": 336, "height": 387,
"title": {"text": "Foreign Players", "font": "Liberation Serif", "fontSize": 33, "fontWeight": "normal", "color": "#000000", "anchor": "middle", "frame": "group", "dx": -76, "offset": 0, "baseline": "alphabetic"},
"data": {"name": "p2"},
"mark": {"type": "circle", "size": 35, "color": "#1A476F", "opacity": 1},
"encoding": {
"x": {"field": "x", "type": "quantitative", "scale": {"domain": [-0.02, 0.82], "nice": false, "zero": false}, "axis": {"title": "Between countries", "values": [0, 0.2, 0.4, 0.6, 0.8], "labelExpr": "datum.value == 0 ? '0' : replace(toString(datum.value), '0.', '.')"}},
"y": {"field": "y", "type": "quantitative", "scale": {"domain": [1190.6, 1711.7], "nice": false, "zero": false}, "axis": {"title": null, "values": [1200, 1300, 1400, 1500, 1600, 1700], "format": "d", "labelPadding": 33}}
}
},
{
"width": 336, "height": 387,
"data": {"name": "p3"},
"mark": {"type": "circle", "size": 35, "color": "#1A476F", "opacity": 1},
"encoding": {
"x": {"field": "x", "type": "quantitative", "scale": {"domain": [-0.448, 0.633], "nice": false, "zero": false}, "axis": {"title": "Within countries", "values": [-0.4, -0.2, 0, 0.2, 0.4, 0.6], "labelExpr": "datum.value == 0 ? '0' : replace(toString(datum.value), '0.', '.')"}},
"y": {"field": "y", "type": "quantitative", "scale": {"domain": [-280, 451], "nice": false, "zero": false}, "axis": {"title": null, "values": [-200, 0, 200, 400], "labelExpr": "toString(datum.value)", "labelPadding": 23}}
}
}
],
"config": {
"view": {"fill": "white", "stroke": null},
"axis": {"domainColor": "#3C3C3C", "domainWidth": 1, "tickColor": "#3C3C3C", "tickSize": 5, "tickWidth": 1, "labelFont": "Liberation Sans", "labelFontSize": 12, "labelColor": "#000000", "titleFont": "Liberation Sans", "titleFontSize": 12, "titleFontWeight": "normal", "titleColor": "#000000", "gridColor": "#E6EEF0", "gridWidth": 1.5, "labelFlush": false, "labelOverlap": false},
"axisX": {"grid": false, "labelPadding": 2, "titlePadding": 4},
"axisY": {"grid": true, "labelAngle": -90, "labelAlign": "center", "labelBaseline": "bottom"}
}
}
